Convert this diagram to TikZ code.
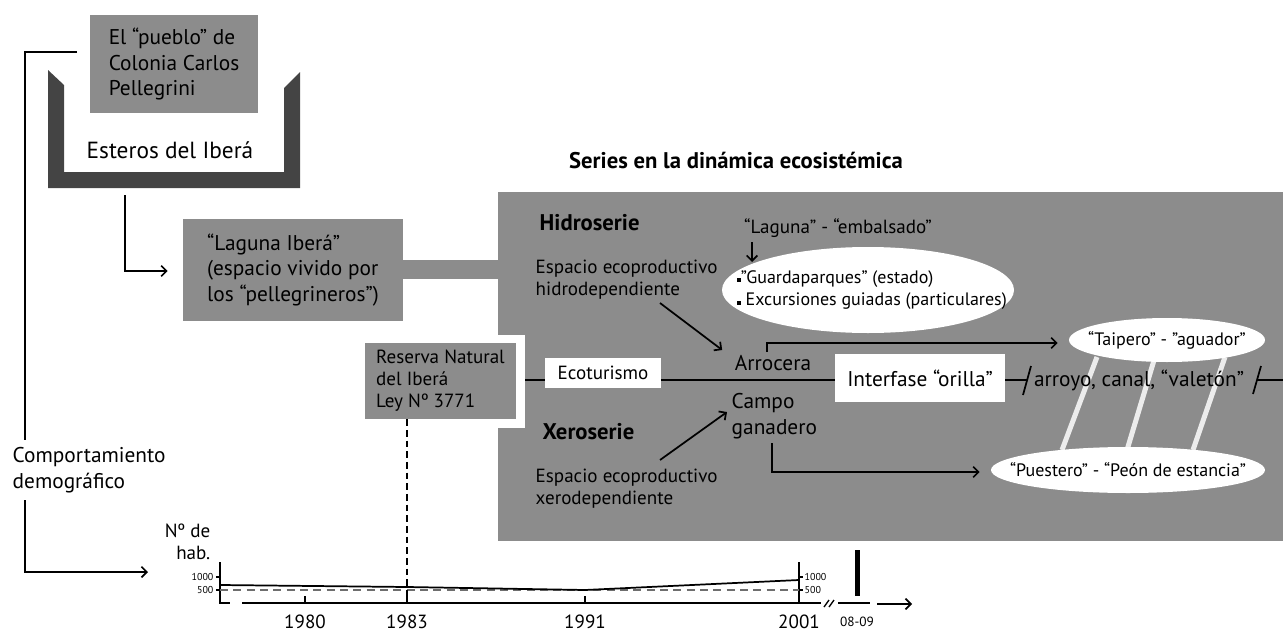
\documentclass[tikz,border=0pt]{standalone}
\usepackage{fontspec}
\setmainfont{PT Sans}
\usetikzlibrary{calc,arrows.meta,shapes.geometric}
\definecolor{boxgray}{RGB}{140,140,140}
\definecolor{darkrim}{RGB}{68,68,68}
\definecolor{palelink}{RGB}{236,236,236}
\definecolor{midgray}{RGB}{110,110,110}
\def\sq{\rule[1pt]{2.8pt}{2.8pt}}
\tikzset{
  big/.style={font=\fontsize{16}{19}\selectfont},
  mid/.style={font=\fontsize{14.3}{16.5}\selectfont},
  ovaltext/.style={font=\fontsize{13.5}{17}\selectfont},
  headb/.style={font=\fontsize{17}{20}\selectfont\bfseries},
  small/.style={font=\fontsize{10}{12}\selectfont},
  tiny/.style={font=\fontsize{7.5}{9}\selectfont},
  graybox/.style={fill=boxgray, inner sep=0pt, align=left},
  whitebox/.style={fill=white, inner sep=0pt},
  oval/.style={ellipse, fill=white, inner sep=0pt},
  wire/.style={line width=1.3pt},
  arr/.style={wire, -{Straight Barb[length=4pt,width=8pt]}},
}
\begin{document}
\begin{tikzpicture}[x=0.75pt,y=-0.75pt]
		\useasboundingbox (0,0) rectangle (1283,632);
		%%%%% ESTEROS %%%%%
		\fill[darkrim] (48,70) -- (64,85) -- (64,172) -- (284,172) -- (284,88) -- (300,72) -- (300,188) -- (48,188) -- cycle;
		\node[graybox, big, minimum width=126pt, minimum height=73.5pt] (pueblo) at (174,64) {El “pueblo” de\\Colonia Carlos\\Pellegrini};
		\node[big, font=\fontsize{17.5}{20}\selectfont] (esteros) at (170,150) {Esteros del Iberá};
		\node[graybox, big, minimum width=165pt, minimum height=76.5pt] (laguna) at (293,270) {“Laguna Iberá”\\(espacio vivido por\\los “pellegrineros”)};
		\coordinate (u1) at (125,195);
		\draw[arr] (u1) |- ($(laguna.west)+(-15,1)$);
		
		%%%%% SERIES %%%%%
		\node[headb] (titulo) at (736,160) {Series en la dinámica ecosistémica};
		\node[graybox, minimum width=588.75pt, minimum height=261.75pt] (serie) at (890.5,366.5) {};
		\fill[boxgray] (laguna.east |- 0,260) rectangle (serie.west |- 0,279);
		\fill[white] (498,335) rectangle (525,428);
		\node[graybox, mid, minimum width=113.25pt, minimum height=57pt] (reserva) at (440.5,381) {Reserva Natural\\del Iberá\\Ley Nº 3771};
		\coordinate (notch) at (525,380);
		
		\node[headb, anchor=west] (hidroserie) at (535,223) {Hidroserie};
		\node[mid] (lagemb) at (838,228) {“Laguna” - “embalsado”};
		\node[oval, ovaltext, minimum width=219pt, minimum height=64.5pt] (guarda) at (868,290) {\makebox[0pt]{\hspace{6pt}\begin{tabular}{@{}l@{}}\sq”Guardaparques” (estado)\\\sq\ Excursiones guiadas (particulares)\end{tabular}}};
		\draw[arr] (lagemb.south -| 752,0) -- (752,262);
		\node[mid, anchor=west, align=left] (hidro) at (531,280) {Espacio ecoproductivo\\hidrodependiente};
		\node[big] (arrocera) at (773,363) {Arrocera};
		\node[big, anchor=west, align=left] (campo) at (727,416) {Campo\\ganadero};
		\node[headb, anchor=west] (xeroserie) at (538,432) {Xeroserie};
		\node[mid, anchor=west, align=left] (xero) at (531,489) {Espacio ecoproductivo\\xerodependiente};
		\draw[arr] (660,303) -- ($(arrocera.west)+(-8,-13)$);
		\draw[arr] (660,460) -- ($(campo.west)+(0,-4)$);
		
		%%%%% INTERFASE %%%%%
		\node[whitebox, mid, minimum width=87pt, minimum height=22.5pt] (ecotur) at (603,373) {Ecoturismo};
		\node[whitebox, big, minimum width=127.5pt, minimum height=36pt] (interfase) at (920,378) {Interfase “orilla”};
		\draw[palelink, line width=3.75pt] (1097,357) -- (1062,450) (1155,357) -- (1127,450) (1225,357) -- (1193,450);
		\node[big, inner sep=1pt] (arroyo) at (1139,380) {arroyo, canal, “valetón”};
		\node[oval, ovaltext, minimum width=147pt, minimum height=33pt] (taipero) at (1167,340) {\makebox[0pt]{“Taipero” - ”aguador”}};
		\node[oval, ovaltext, minimum width=205.5pt, minimum height=34.5pt] (puestero) at (1128,470) {\makebox[0pt]{“Puestero” - “Peón de estancia”}};
		\draw[wire] (notch) -- (notch -| ecotur.west);
		\draw[wire] (notch -| ecotur.east) -- (notch -| interfase.west);
		\draw[wire] (notch -| interfase.east) -- (1027,380);
		\draw[wire] (1023,395) -- (1031,366);
		\draw[wire] (1253,394) -- (1261,366);
		\draw[wire] (1257,380) -- (1283,380);
		\draw[arr] ($(arrocera.north)+(-6,1)$) |- ($(taipero.west)+(-11,3)$);
		\draw[arr] ($(campo.south west)+(45,0)$) |- ($(puestero.west)+(-11,2)$);
		
		%%%%% DEMOGRAFIA %%%%%
		\node[big, anchor=west, align=left] (comport) at (8,470) {Comportamiento\\demográfico};
		\coordinate (p1) at (77,52);
		\coordinate (chartin) at (148,572);
		\draw[wire] (p1) -| ($(comport.north west)+(17,-3)$);
		\draw[arr] ($(comport.south west)+(17,3)$) |- (chartin);
		\node[mid, anchor=east, align=right] (hab) at (215,542) {Nº de\\hab.};
		\coordinate (o) at (220,603);
		\draw[wire] (220,562) -- (o) -- (230,603);
		\draw[wire] (242,603) -- (821,603);
		\draw[wire] (799,562) -- (799,603);
		\foreach \y/\v in {577/1000, 590/500} {
			\draw[line width=1pt] (216,\y) -- (220,\y);
			\draw[line width=1pt] (799,\y) -- (803,\y);
			\node[tiny, anchor=east, inner sep=1pt] (yl\v) at (215,\y) {\v};
			\node[tiny, anchor=west, inner sep=1pt] (yr\v) at (803,\y) {\v};
		}
		\foreach \x/\yr in {305/1980, 407/1983, 585/1991, 799/2001} {
			\draw[wire] (\x,596) -- (\x,603);
			\node[mid] (yr\yr) at (\x,622) {\yr};
		}
		\draw[midgray, line width=1pt, dash pattern=on 6pt off 4pt] (220,590) -- (799,590);
		\draw[wire] (220,585) -- (407,587) -- (585,590) -- (799,580);
		\draw[line width=1pt, dash pattern=on 5pt off 3pt] (reserva.south -| yr1983) -- (yr1983 |- o);
		\draw[line width=1pt] (824,607) -- (829,600) (829,607) -- (834,600);
		\draw[wire] (838,603) -- (870,603);
		\draw[arr] (877,604) -- (912,604);
		\draw[line width=3.75pt] (857,550) -- (857,596);
		\node[small] (fecha) at (857,622) {08-09};
		%%%%% END %%%%%
	\end{tikzpicture}
\end{document}
